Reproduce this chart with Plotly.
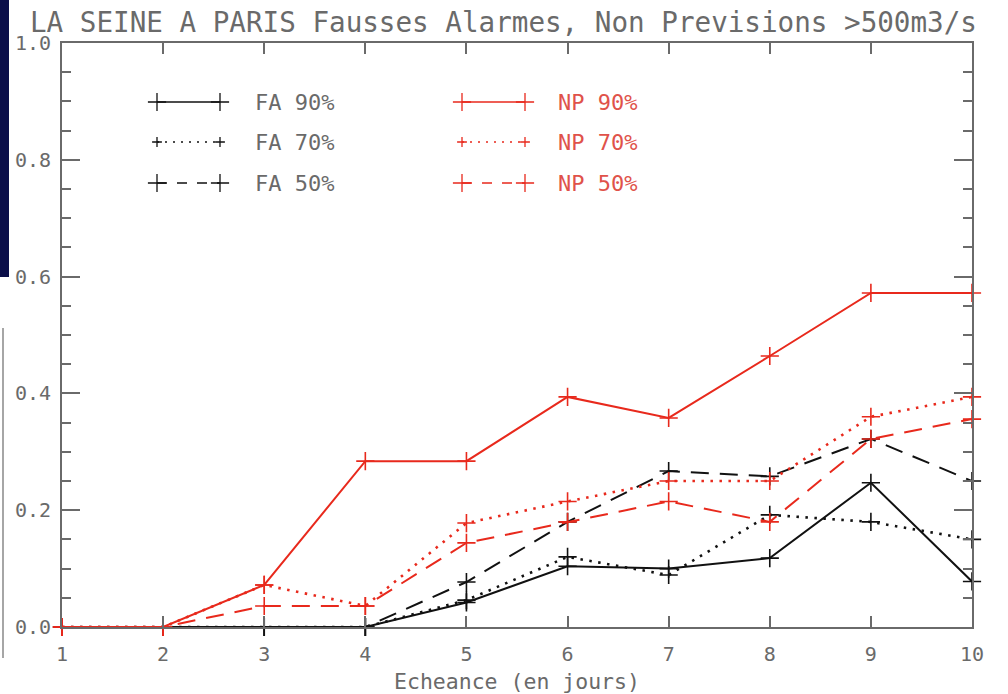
import plotly.graph_objects as go

# ---- data ----
days = [1, 2, 3, 4, 5, 6, 7, 8, 9, 10]
fa_90 = [0, 0, 0, 0, 0.042, 0.104, 0.100, 0.118, 0.247, 0.078]
fa_70 = [0, 0, 0, 0, 0.046, 0.120, 0.089, 0.192, 0.180, 0.150]
fa_50 = [0, 0, 0, 0, 0.077, 0.180, 0.267, 0.258, 0.322, 0.250]
np_90 = [0, 0, 0.072, 0.284, 0.284, 0.394, 0.358, 0.464, 0.572, 0.572]
np_70 = [0, 0, 0.072, 0.036, 0.178, 0.215, 0.250, 0.250, 0.360, 0.394]
np_50 = [0, 0, 0.036, 0.036, 0.144, 0.180, 0.215, 0.180, 0.322, 0.356]
series_names = ["FA 90%", "FA 70%", "FA 50%", "NP 90%", "NP 70%", "NP 50%"]
series_values = [fa_90, fa_70, fa_50, np_90, np_70, np_50]
x_tick_labels = ["1", "2", "3", "4", "5", "6", "7", "8", "9", "10"]
y_tick_vals = [0.0, 0.2, 0.4, 0.6, 0.8, 1.0]
y_tick_labels = ["0.0", "0.2", "0.4", "0.6", "0.8", "1.0"]

BLACK = "#111111"
RED = "#e8291c"
GREY = "#6a6a6a"
FONT = "DejaVu Sans Mono"
DASHES = {"90": "solid", "70": "2.5px,6.5px", "50": "18px,11px"}

W, H = 1008, 694
L, R, T, B = 62, 972, 43, 627


def px_x(p):
    return (p - L) / (R - L)


def px_y(p):
    return (B - p) / (B - T)


fig = go.Figure()

for name, vals in zip(series_names, series_values):
    color = RED if name.startswith("NP") else BLACK
    pct = name.split()[1][:2]
    fig.add_trace(go.Scatter(
        x=days, y=vals, mode="lines+markers", name=name,
        line=dict(color=color, width=2 if pct != "70" else 2.6, dash=DASHES[pct]),
        marker=dict(symbol="cross-thin", size=13, line=dict(color=color, width=1.6)),
        cliponaxis=False, showlegend=False,
    ))

# ---- legend drawn on a pixel-space overlay axis ----
legend_rows = [102, 142, 183]
legend_cols = [(157, 220, 253), (462, 525, 556)]
for i, name in enumerate(series_names):
    col = 0 if name.startswith("FA") else 1
    row = i % 3
    x0, x1, xt = legend_cols[col]
    yy = legend_rows[row]
    color = RED if col == 1 else BLACK
    pct = name.split()[1][:2]
    fig.add_trace(go.Scatter(
        x=[x0, x1], y=[yy, yy], xaxis="x2", yaxis="y2", mode="lines+markers",
        line=dict(color=color, width=1.5 if pct != "70" else 1.6,
                  dash="solid" if pct == "90" else ("2px,6px" if pct == "70" else "10px,10px")),
        marker=dict(symbol="cross-thin", size=13 if pct != "70" else 7,
                    line=dict(color=color, width=1.3)),
        showlegend=False, hoverinfo="skip",
    ))
    fig.add_annotation(x=xt, y=yy, xref="x2", yref="y2", text=name, showarrow=False,
                       xanchor="left", yanchor="middle",
                       font=dict(family=FONT, size=22, color=GREY if col == 0 else "#e0524a"))

fig.update_layout(
    width=W, height=H,
    margin=dict(l=L, r=W - R, t=T, b=H - B),
    paper_bgcolor="white", plot_bgcolor="white",
    showlegend=False,
    title=dict(text="LA SEINE A PARIS Fausses Alarmes, Non Previsions >500m3/s",
               x=30 / W, xanchor="left", y=1 - 22 / H, yanchor="middle",
               font=dict(family=FONT, size=27.6, color=GREY)),
    xaxis=dict(range=[1, 10], tickvals=days, ticktext=x_tick_labels,
               ticks="inside", ticklen=11, tickwidth=1.5, tickcolor=GREY,
               showline=True, linecolor=GREY, linewidth=2, mirror="allticks",
               showgrid=False, zeroline=False, ticklabelstandoff=8, automargin=False,
               tickfont=dict(family=FONT, size=20, color=GREY),
               title=dict(text="Echeance (en jours)", standoff=10,
                          font=dict(family=FONT, size=21.5, color=GREY))),
    yaxis=dict(range=[0, 1], tickvals=y_tick_vals, ticktext=y_tick_labels,
               ticks="inside", ticklen=18, tickwidth=1.5, tickcolor=GREY,
               minor=dict(dtick=0.05, ticks="inside", ticklen=9, tickcolor=GREY, tickwidth=1.5),
               showline=True, linecolor=GREY, linewidth=2, mirror="allticks",
               showgrid=False, zeroline=False, ticklabelstandoff=5, automargin=False,
               tickfont=dict(family=FONT, size=20, color=GREY)),
    xaxis2=dict(overlaying="x", range=[L, R], visible=False, fixedrange=True),
    yaxis2=dict(overlaying="y", range=[B, T], visible=False, fixedrange=True),
    shapes=[
        dict(type="rect", xref="paper", yref="paper",
             x0=px_x(0), x1=px_x(9), y0=px_y(277), y1=px_y(0),
             fillcolor="#0b0f4a", line=dict(width=0), layer="above"),
        dict(type="line", xref="paper", yref="paper",
             x0=px_x(3), x1=px_x(3), y0=px_y(328), y1=px_y(658),
             line=dict(color="#888888", width=1.5)),
    ],
)

fig.write_html("out.html", config={"displayModeBar": False},
               post_script="document.body.style.margin='0';")
